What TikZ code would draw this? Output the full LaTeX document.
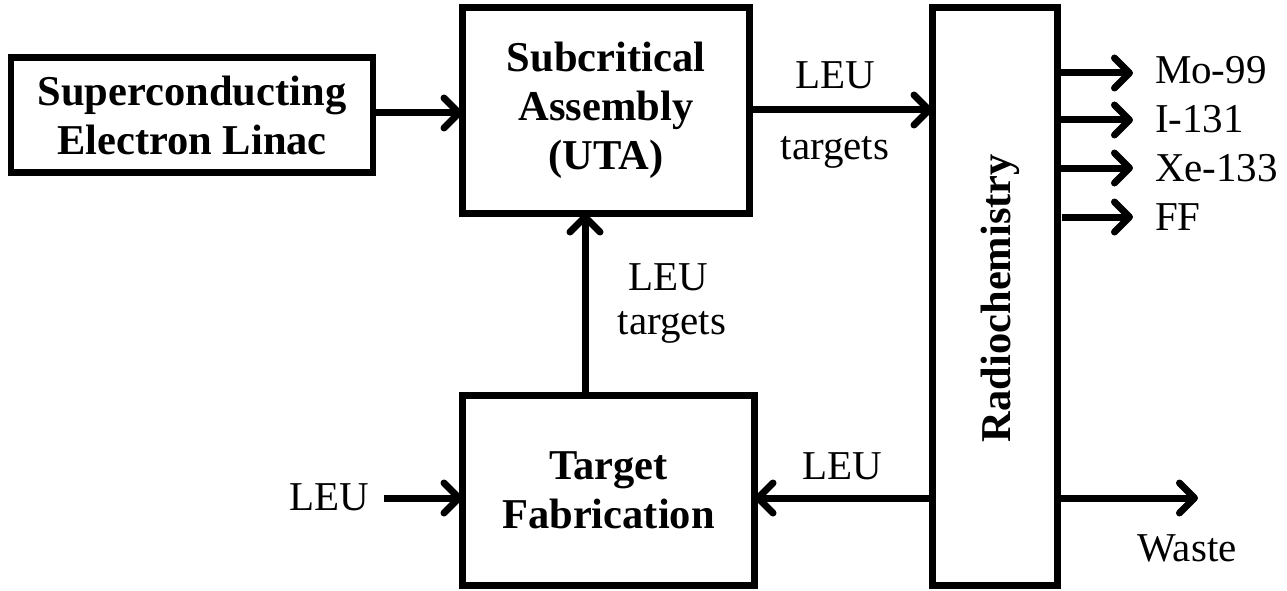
\documentclass[tikz,border=0pt]{standalone}
\usepackage{fontspec}
\setmainfont{Liberation Serif}
\usetikzlibrary{arrows.meta}
\begin{document}
\begin{tikzpicture}[x=1pt,y=-1pt,
  blk/.style={draw,line width=6.5pt,inner sep=0pt,outer sep=0pt,align=center,
    font=\fontsize{42.5}{49}\selectfont\bfseries},
  lbl/.style={inner sep=0pt,outer sep=0pt,align=center,font=\fontsize{41}{49}\selectfont},
  arr/.style={line width=7pt,-{Straight Barb[length=15pt,width=30pt,round]}}]
\useasboundingbox (0,0) rectangle (1287,591);
\node[blk,minimum width=362pt,minimum height=115pt] (lin) at (192,115) {Superconducting\\Electron Linac};
\node[blk,minimum width=287pt,minimum height=206pt] (sub) at (606,110.5) {Subcritical\\Assembly\\(UTA)};
\node[blk,minimum width=125pt,minimum height=578pt] (rad) at (995,296.5) {};
\node[rotate=90,inner sep=0pt,font=\fontsize{42.5}{49}\selectfont\bfseries] (radt) at (1000,298) {Radiochemistry};
\node[blk,minimum width=292pt,minimum height=190pt] (tf) at (608.5,490.5) {Target\\Fabrication};
% labels
\node[lbl,anchor=base] (l1) at (835,89) {LEU};
\node[lbl,anchor=base] (l2) at (835,159) {targets};
\node[lbl,anchor=base] (l3) at (668,290) {LEU};
\node[lbl,anchor=base] (l4) at (672,334) {targets};
\node[lbl,anchor=base] (l5) at (842,479) {LEU};
\node[lbl,anchor=base] (leuin) at (329,510) {LEU};
\node[lbl,anchor=base] (waste) at (1187,561) {Waste};
\node[lbl,anchor=base west] (mo) at (1155,84) {Mo-99};
\node[lbl,anchor=base west] (io) at (1155,132) {I-131};
\node[lbl,anchor=base west] (xe) at (1155,181) {Xe-133};
\node[lbl,anchor=base west] (ff) at (1155,230) {FF};
\coordinate (yb) at (0,498);
\coordinate (vx) at (585,0);
\coordinate (wend) at (1198,498);
% connectors
\draw[arr] (lin.east |- 0,113) -- (sub.west |- 0,113);
\draw[arr] (sub.east |- 0,110) -- (rad.west |- 0,110);
\draw[arr] (vx |- tf.north) -- (vx |- sub.south);
\draw[arr] (384,498) -- (tf.west |- yb);
\draw[arr] (rad.west |- yb) -- (tf.east |- yb);
\draw[arr] (rad.east |- yb) -- (wend);
\draw[arr] (rad.east |- 0,73) -- (1133,73);
\draw[arr] (rad.east |- 0,120) -- (1133,120);
\draw[arr] (rad.east |- 0,168) -- (1133,168);
\draw[arr] ([xshift=4pt]rad.east |- 0,217) -- (1133,217);
\end{tikzpicture}
\end{document}
